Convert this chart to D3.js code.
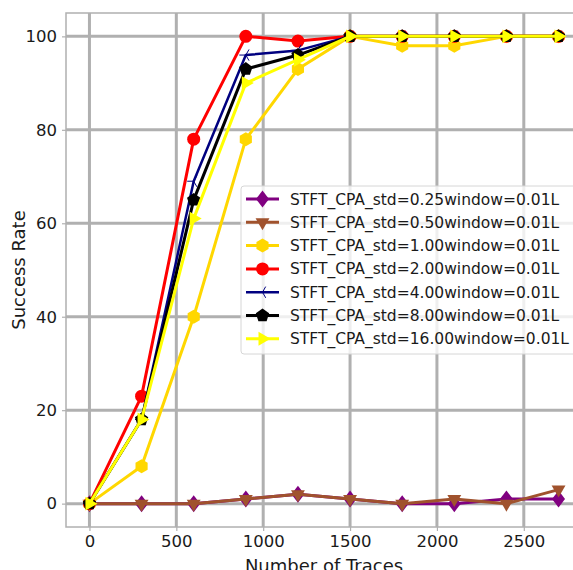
<!DOCTYPE html>
<html>
<head>
<meta charset="utf-8">
<script src="https://cdn.jsdelivr.net/npm/d3@7"></script>
<style>
  body { margin: 0; background: #fff; }
  svg { display: block; font-family: "DejaVu Sans", sans-serif; }
</style>
</head>
<body>
<div id="chart"></div>
<script>
// trace counts along the x axis
var traces = [0, 300, 600, 900, 1200, 1500, 1800, 2100, 2400, 2700];

var std025 = [0, 0, 0, 1, 2, 1, 0, 0, 1, 1];
var std050 = [0, 0, 0, 1, 2, 1, 0, 1, 0, 3];
var std100 = [0, 8, 40, 78, 93, 100, 98, 98, 100, 100];
var std200 = [0, 23, 78, 100, 99, 100, 100, 100, 100, 100];
var std400 = [0, 18, 69, 96, 97, 100, 100, 100, 100, 100];
var std800 = [0, 18, 65, 93, 96, 100, 100, 100, 100, 100];
var std1600 = [0, 18, 61, 90, 95, 100, 100, 100, 100, 100];

var seriesNames = [
  "STFT_CPA_std=0.25window=0.01L",
  "STFT_CPA_std=0.50window=0.01L",
  "STFT_CPA_std=1.00window=0.01L",
  "STFT_CPA_std=2.00window=0.01L",
  "STFT_CPA_std=4.00window=0.01L",
  "STFT_CPA_std=8.00window=0.01L",
  "STFT_CPA_std=16.00window=0.01L"
];
var xTicks = [0, 500, 1000, 1500, 2000, 2500];
var yTicks = [0, 20, 40, 60, 80, 100];

var series = [
  { name: seriesNames[0], values: std025, color: "purple", marker: "diamond", lw: 3 },
  { name: seriesNames[1], values: std050, color: "sienna", marker: "tridown", lw: 3 },
  { name: seriesNames[2], values: std100, color: "gold", marker: "hexagon", lw: 3 },
  { name: seriesNames[3], values: std200, color: "red", marker: "circle", lw: 3 },
  { name: seriesNames[4], values: std400, color: "navy", marker: "trileft", lw: 2.5 },
  { name: seriesNames[5], values: std800, color: "black", marker: "pentagon", lw: 3 },
  { name: seriesNames[6], values: std1600, color: "yellow", marker: "triright", lw: 3 }
];

var W = 573, H = 570;
var mLeft = 66, mTop = 13, mRight = 582, mBottom = 527;

var x = d3.scaleLinear().domain([-135, 2835]).range([mLeft, mRight]);
var y = d3.scaleLinear().domain([-5, 105]).range([mBottom, mTop]);

var svg = d3.select("#chart").append("svg")
    .attr("width", W)
    .attr("height", H);

var gridColor = "#b0b0b0";
var textColor = "#1a1a1a";

// grid
svg.append("g").selectAll("line").data(xTicks).enter().append("line")
    .attr("x1", function(d) { return x(d); })
    .attr("x2", function(d) { return x(d); })
    .attr("y1", mTop).attr("y2", mBottom)
    .attr("stroke", gridColor).attr("stroke-width", 3);
svg.append("g").selectAll("line").data(yTicks).enter().append("line")
    .attr("y1", function(d) { return y(d); })
    .attr("y2", function(d) { return y(d); })
    .attr("x1", mLeft).attr("x2", mRight)
    .attr("stroke", gridColor).attr("stroke-width", 3);

// frame
svg.append("rect")
    .attr("x", mLeft).attr("y", mTop)
    .attr("width", mRight - mLeft).attr("height", mBottom - mTop)
    .attr("fill", "none").attr("stroke", gridColor).attr("stroke-width", 1.5);

// axes
var xAxis = svg.append("g")
    .attr("transform", "translate(0," + mBottom + ")")
    .call(d3.axisBottom(x).tickValues(xTicks).tickFormat(d3.format("d")).tickSize(4).tickPadding(4));
var yAxis = svg.append("g")
    .attr("transform", "translate(" + mLeft + ",0)")
    .call(d3.axisLeft(y).tickValues(yTicks).tickFormat(d3.format("d")).tickSize(4).tickPadding(5));
[xAxis, yAxis].forEach(function(a) {
  a.select(".domain").remove();
  a.selectAll("line").attr("stroke", gridColor).attr("stroke-width", 1.2);
  a.selectAll("text").attr("fill", textColor)
      .style("font-size", "16.5px").style("font-family", "DejaVu Sans");
});

svg.append("text")
    .attr("x", (mLeft + mRight) / 2)
    .attr("y", 572)
    .attr("text-anchor", "middle")
    .attr("fill", textColor)
    .style("font-size", "18px")
    .text("Number of Traces");

svg.append("text")
    .attr("transform", "translate(25," + ((mTop + mBottom) / 2) + ") rotate(-90)")
    .attr("text-anchor", "middle")
    .attr("fill", textColor)
    .style("font-size", "18px")
    .text("Success Rate");

// marker shapes, drawn around 0,0
function poly(n, r, rot) {
  var pts = [];
  for (var i = 0; i < n; i++) {
    var a = rot + i * 2 * Math.PI / n;
    pts.push([r * Math.cos(a), r * Math.sin(a)]);
  }
  return "M" + pts.map(function(p) { return p.join(","); }).join("L") + "Z";
}
function drawMarker(g, s) {
  var c = s.color;
  if (s.marker === "circle") {
    g.append("circle").attr("r", 6.5).attr("fill", c);
  } else if (s.marker === "diamond") {
    g.append("path").attr("d", "M0,-8.5L6.5,0L0,8.5L-6.5,0Z").attr("fill", c);
  } else if (s.marker === "tridown") {
    g.append("path").attr("d", poly(3, 8, Math.PI / 2)).attr("fill", c);
  } else if (s.marker === "triright") {
    g.append("path").attr("d", poly(3, 8, 0)).attr("fill", c);
  } else if (s.marker === "hexagon") {
    g.append("path").attr("d", poly(6, 7, Math.PI / 2)).attr("fill", c);
  } else if (s.marker === "pentagon") {
    g.append("path").attr("d", poly(5, 7, -Math.PI / 2)).attr("fill", c);
  } else if (s.marker === "trileft") {
    g.append("path").attr("d", "M0,0L-6.5,0M0,0L3.2,-5.6M0,0L3.2,5.6")
        .attr("stroke", c).attr("stroke-width", 1).attr("fill", "none");
  }
}

var line = d3.line()
    .x(function(d) { return x(d[0]); })
    .y(function(d) { return y(d[1]); });

var plot = svg.append("g");
series.forEach(function(s) {
  var pts = traces.map(function(t, i) { return [t, s.values[i]]; });
  var g = plot.append("g");
  g.append("path")
      .datum(pts)
      .attr("d", line)
      .attr("fill", "none")
      .attr("stroke", s.color)
      .attr("stroke-width", s.lw)
      .attr("stroke-linejoin", "round");
  pts.forEach(function(p) {
    var m = g.append("g").attr("transform", "translate(" + x(p[0]) + "," + y(p[1]) + ")");
    drawMarker(m, s);
  });
});

// legend
var lg = svg.append("g").attr("transform", "translate(241,186)");
lg.append("rect")
    .attr("width", 345).attr("height", 168)
    .attr("rx", 3)
    .attr("fill", "white").attr("fill-opacity", 0.8)
    .attr("stroke", "#d6d6d6");
series.forEach(function(s, i) {
  var row = lg.append("g").attr("transform", "translate(0," + (13 + i * 23.3) + ")");
  row.append("line")
      .attr("x1", 5).attr("x2", 38)
      .attr("stroke", s.color).attr("stroke-width", s.lw);
  drawMarker(row.append("g").attr("transform", "translate(21.5,0)"), s);
  row.append("text")
      .attr("x", 49).attr("y", 5.5)
      .attr("fill", textColor)
      .style("font-size", "15.5px")
      .text(s.name);
});
</script>
</body>
</html>
